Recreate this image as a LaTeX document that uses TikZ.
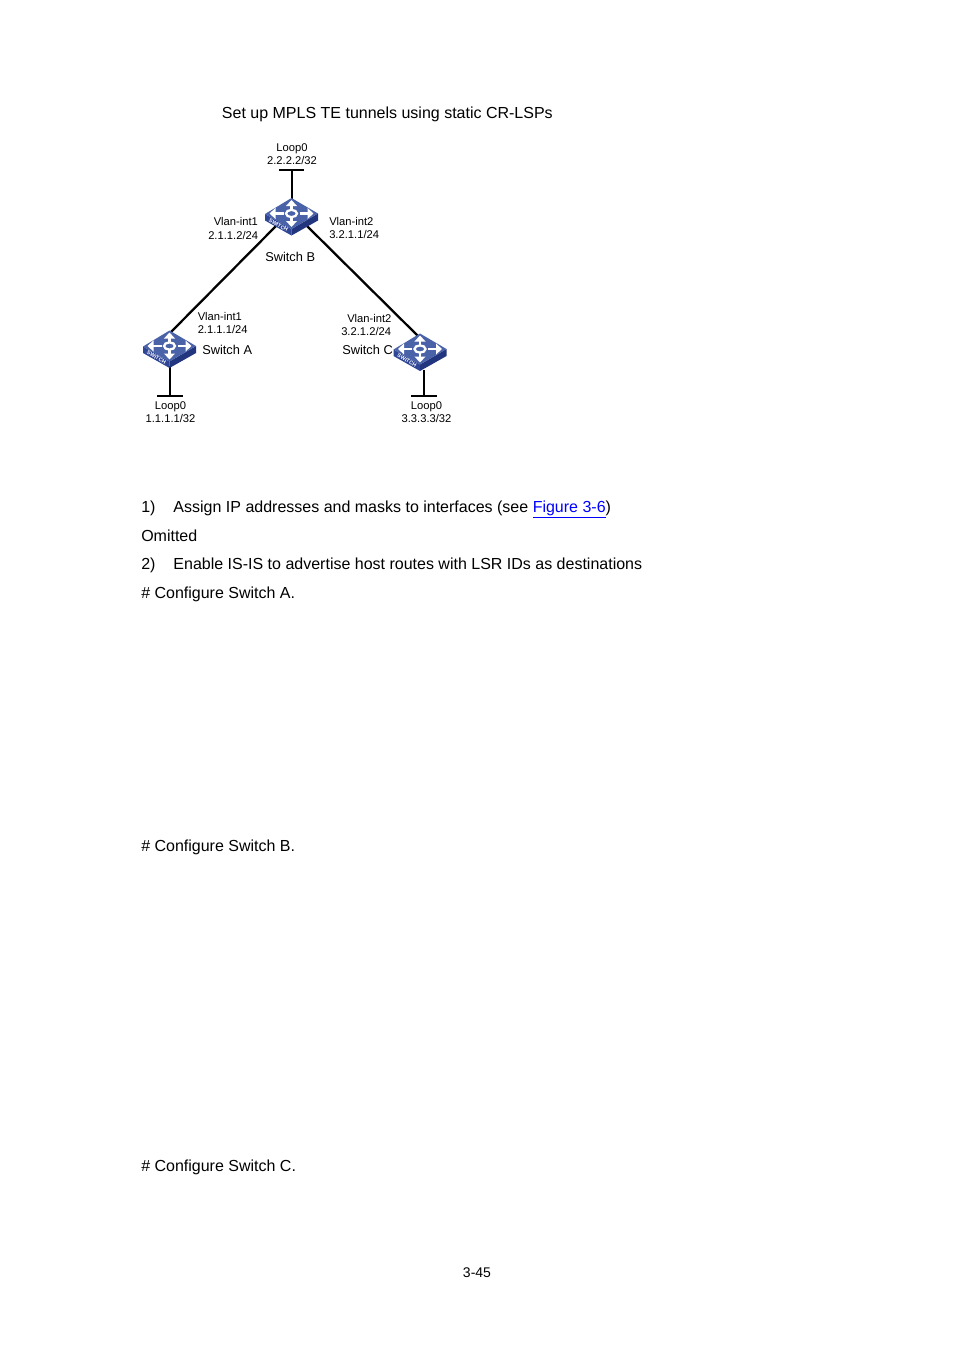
\documentclass[tikz,border=0pt]{standalone}
\usepackage{fontspec}
\setmainfont{Liberation Sans}
\usetikzlibrary{arrows.meta}
\definecolor{swtop}{HTML}{4A62A8}
\definecolor{swfront}{HTML}{2F4595}
\definecolor{swside}{HTML}{22357F}
\tikzset{
  lab/.style={inner sep=0,align=center,font=\fontsize{8.4pt}{9.6pt}\selectfont},
  swname/.style={inner sep=0,anchor=base west,font=\fontsize{9.6pt}{11pt}\selectfont},
  body/.style={inner sep=0,anchor=base west,font=\fontsize{12pt}{14pt}\selectfont},
  link/.style={line width=1.7pt,black},
  bar/.style={line width=2pt,black},
  swarrow/.style={white,line width=1.9pt,-{Triangle[length=4.5pt,width=8pt]}},
  pics/switchicon/.style={code={
    \fill[swfront] (-26.5,0.5)--(0,15.5)--(0,22)--(-26.5,7)--cycle;
    \fill[swside] (26.5,0)--(0,15.5)--(0,22)--(26.5,7)--cycle;
    \fill[swtop] (-26.5,0.5)--(0,-15.5)--(26.5,0)--(0,15.5)--cycle;
    \draw[swarrow] (-8,0)--(-22,0);
    \draw[swarrow] (8,0)--(22,0);
    \draw[swarrow] (0,-4)--(0,-13.5);
    \draw[swarrow] (0,4)--(0,13.5);
    \draw[white,line width=1.7pt] (0,0) ellipse (5.5 and 3.6);
    \node[white,inner sep=0,rotate=-30,font=\fontsize{4pt}{4pt}\bfseries\selectfont] (swtext) at (-13,11.5) {SWITCH};
  }}
}
\begin{document}
\begin{tikzpicture}[x=0.75pt,y=-0.75pt]
\useasboundingbox (0,0) rectangle (954,1350);
\node[body] (title) at (221.7,118) {Set up MPLS TE tunnels using static CR-LSPs};
% connector ends
\coordinate (barBl) at (279,170);
\coordinate (barBr) at (304,170);
\coordinate (barBm) at (292,170);
\coordinate (swBtop) at (292,200);
\coordinate (swBl) at (276,226);
\coordinate (swBr) at (306,225);
\coordinate (swAtop) at (170,333);
\coordinate (swCtop) at (418,336);
\coordinate (swAbot) at (170,366);
\coordinate (swCbot) at (424,370);
\coordinate (barAl) at (157,396);
\coordinate (barAr) at (183,396);
\coordinate (barAm) at (170,396);
\coordinate (barCl) at (411,396);
\coordinate (barCr) at (437,396);
\coordinate (barCm) at (424,396);
\draw[bar] (barBl)--(barBr);
\draw[link] (barBm)--(swBtop);
\draw[link] (swBl)--(swAtop);
\draw[link] (swBr)--(swCtop);
\draw[link] (swAbot)--(barAm);
\draw[bar] (barAl)--(barAr);
\draw[link] (swCbot)--(barCm);
\draw[bar] (barCl)--(barCr);
\pic (swB) at (291.5,213.5) {switchicon};
\pic (swA) at (169.5,346) {switchicon};
\pic (swC) at (420,349) {switchicon};
\node[lab] (loopB) at (292,154) {Loop0\\2.2.2.2/32};
\node[lab] (loopA) at (170.5,412) {Loop0\\1.1.1.1/32};
\node[lab] (loopC) at (426.5,412) {Loop0\\3.3.3.3/32};
\node[lab,anchor=base west] (intBa) at (213.5,225) {Vlan-int1};
\node[lab,anchor=base west] (ipBa) at (208,239) {2.1.1.2/24};
\node[lab,anchor=base west] (intBc) at (329,225) {Vlan-int2};
\node[lab,anchor=base west] (ipBc) at (329,238) {3.2.1.1/24};
\node[lab,anchor=base west] (intAb) at (197.5,320) {Vlan-int1};
\node[lab,anchor=base west] (ipAb) at (197.5,333) {2.1.1.1/24};
\node[lab,anchor=base west] (intCb) at (347,322) {Vlan-int2};
\node[lab,anchor=base west] (ipCb) at (341,335) {3.2.1.2/24};
\node[swname] (nameB) at (265,261) {Switch B};
\node[swname] (nameA) at (202,354) {Switch A};
\node[swname] (nameC) at (342,354) {Switch C};
\node[body] (stepa) at (141,512) {1)\hspace{13.5pt}Assign IP addresses and masks to interfaces (see \textcolor{blue}{\underline{Figure 3-6}})};
\node[body] (omit) at (141,541) {Omitted};
\node[body] (stepb) at (141,569) {2)\hspace{13.5pt}Enable IS-IS to advertise host routes with LSR IDs as destinations};
\node[body] (cfga) at (141,598) {\# Configure Switch A.};
\node[body] (cfgb) at (141,851) {\# Configure Switch B.};
\node[body] (cfgc) at (141,1171) {\# Configure Switch C.};
\node[inner sep=0,anchor=base,font=\fontsize{10.5pt}{12pt}\selectfont] (pageno) at (477,1277) {3-45};
\end{tikzpicture}
\end{document}
